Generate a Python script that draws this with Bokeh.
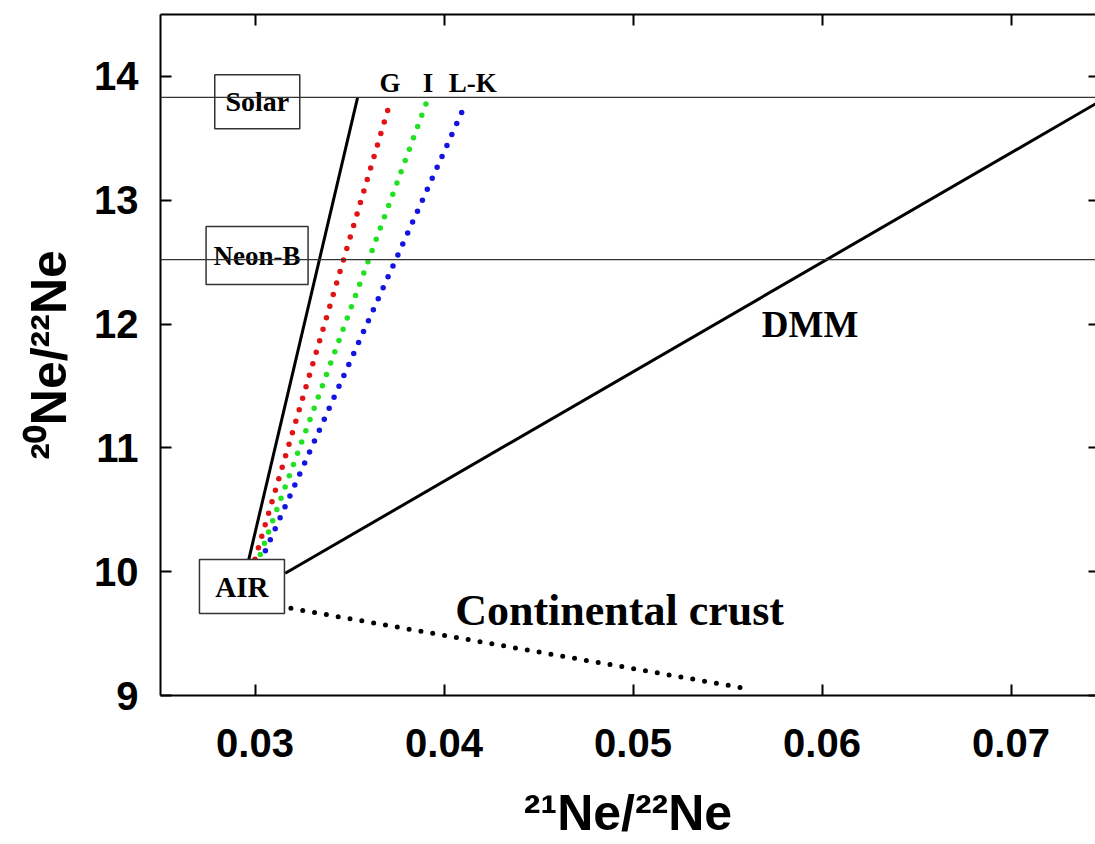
from bokeh.plotting import figure
from bokeh.models import Span, LinearAxis, FixedTicker, Range1d, ColumnDataSource, CustomJSTickFormatter
from bokeh.core.properties import value
from bokeh.embed import file_html
from bokeh.resources import INLINE

# ---------------- data ----------------
x_ticks = [0.03, 0.04, 0.05, 0.06, 0.07]
y_ticks = [9, 10, 11, 12, 13, 14]
x_title = "²¹Ne/²²Ne"
y_title = "²⁰Ne/²²Ne"

ref_names = ["Solar", "Neon-B"]
ref_ne20 = [13.83, 12.52]

box_labels = ["Solar", "Neon-B", "AIR"]
box_x = [0.03012, 0.03011, 0.02931]
box_y = [13.795, 12.553, 9.880]
box_w = [85, 102, 85]
box_h = [54, 58, 54]
box_font = ["28px", "27px", "29px"]

mix_solar_x = [0.02967, 0.03543]
mix_solar_y = [10.098, 13.830]
G_x = [0.03000, 0.03707]
G_y = [10.100, 13.751]
I_x = [0.03028, 0.03910]
I_y = [10.138, 13.800]
LK_x = [0.03055, 0.04100]
LK_y = [10.170, 13.730]
dmm_x = [0.03160, 0.07450]
dmm_y = [9.987, 13.781]
crust_x = [0.03190, 0.05600]
crust_y = [9.704, 9.056]

line_labels = ["G", "I", "L-K"]
line_label_x = [0.03714, 0.03915, 0.04152]
line_label_y = [13.943, 13.943, 13.943]

field_labels = ["DMM", "Continental crust"]
field_x = [0.05937, 0.04929]
field_y = [11.996, 9.686]
field_size = ["37px", "44px"]

# ---------------- figure ----------------
p = figure(width=1095, height=844, output_backend="svg", toolbar_location=None,
           x_range=Range1d(0.025, 0.025 + 935 / 18900), y_range=Range1d(9, 14.5),
           min_border_left=160, min_border_right=0, min_border_top=14,
           min_border_bottom=149)
p.background_fill_color = "white"
p.border_fill_color = "white"
p.outline_line_color = None
p.xgrid.visible = False
p.ygrid.visible = False

TICK_FONT = "Liberation Sans"
for ax in [p.xaxis[0], p.yaxis[0]]:
    ax.major_label_text_font = TICK_FONT
    ax.major_label_text_font_style = "bold"
    ax.major_label_text_font_size = "40px"
    ax.major_label_text_color = "black"
    ax.major_tick_in = 11
    ax.major_tick_out = 0
    ax.minor_tick_line_color = None
    ax.axis_line_width = 2
    ax.major_tick_line_width = 2
    ax.axis_line_color = "black"
    ax.major_tick_line_color = "black"
    ax.axis_label_text_font = TICK_FONT
    ax.axis_label_text_font_style = "bold"
    ax.axis_label_text_font_size = "50px"
    ax.axis_label_text_color = "black"
p.xaxis[0].ticker = FixedTicker(ticks=x_ticks)
p.yaxis[0].ticker = FixedTicker(ticks=y_ticks)
p.xaxis[0].major_label_standoff = 33
p.yaxis[0].major_label_standoff = 22
p.xaxis[0].axis_label = x_title
p.yaxis[0].axis_label = y_title
p.xaxis[0].axis_label_standoff = 25
p.yaxis[0].axis_label_standoff = 14

blank = CustomJSTickFormatter(code="return ''")
top = LinearAxis(ticker=FixedTicker(ticks=x_ticks), formatter=blank,
                 major_tick_in=11, major_tick_out=0, minor_tick_line_color=None,
                 axis_line_width=2, major_tick_line_width=2, major_label_standoff=0)
right = LinearAxis(ticker=FixedTicker(ticks=y_ticks), formatter=blank,
                   major_tick_in=7, major_tick_out=0, minor_tick_line_color=None,
                   axis_line_color=None, major_tick_line_width=2, major_label_standoff=0)
p.add_layout(top, "above")
p.add_layout(right, "right")

# reference horizontal lines
for v in ref_ne20:
    p.add_layout(Span(location=v, dimension="width", line_color="#333333", line_width=1.3))

# lines
p.line(mix_solar_x, mix_solar_y, line_color="black", line_width=3)
p.line(dmm_x, dmm_y, line_color="black", line_width=3)
p.line(G_x, G_y, line_color="#e01414", line_width=5.5, line_dash="0 12", line_cap="round")
p.line(I_x, I_y, line_color="#22e022", line_width=5.5, line_dash="0 12", line_cap="round")
p.line(LK_x, LK_y, line_color="#1414e0", line_width=5.5, line_dash="0 12", line_cap="round")
p.line(crust_x, crust_y, line_color="black", line_width=5, line_dash="0 12", line_cap="round")

# boxes
bsrc = ColumnDataSource(dict(x=box_x, y=box_y, w=box_w, h=box_h, t=box_labels, s=box_font))
p.rect(x="x", y="y", width="w", height="h", width_units="screen", height_units="screen",
       fill_color="white", line_color="#333333", line_width=1.5, source=bsrc)
p.text(x="x", y="y", text="t", source=bsrc, text_font=value("Liberation Serif"),
       text_font_style="bold", text_font_size="s", text_align="center",
       text_baseline="middle", text_color="black")

p.text(x=line_label_x, y=line_label_y, text=line_labels, text_font=value("Liberation Serif"),
       text_font_style="bold", text_font_size=value("27px"), text_align="center",
       text_baseline="alphabetic", text_color="black")

fsrc = ColumnDataSource(dict(x=field_x, y=field_y, t=field_labels, s=field_size))
p.text(x="x", y="y", text="t", text_font_size="s", source=fsrc,
       text_font=value("Liberation Serif"), text_font_style="bold", text_align="center",
       text_baseline="alphabetic", text_color="black")

open("out.html", "w").write(file_html(p, INLINE))
